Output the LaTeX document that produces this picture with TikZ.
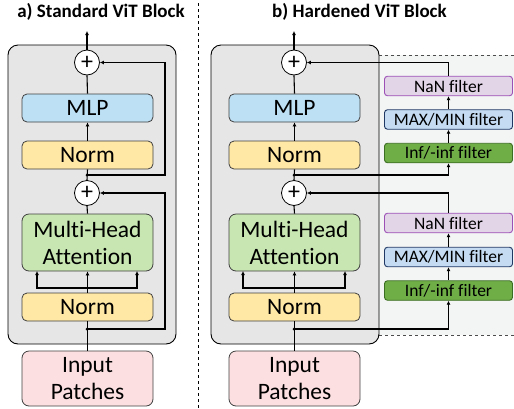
\documentclass[tikz,border=0pt]{standalone}
\usepackage{fontspec}
\setmainfont{Carlito}[Ligatures={NoCommon}]
\usetikzlibrary{arrows.meta}
\definecolor{mlpc}{HTML}{BDE0F4}
\definecolor{normc}{HTML}{FFE8A5}
\definecolor{mhac}{HTML}{C7E6B1}
\definecolor{inpc}{HTML}{FCDFE0}
\definecolor{nanf}{HTML}{E3D5E8}
\definecolor{nand}{HTML}{9C4FB5}
\definecolor{maxf}{HTML}{C4DBF1}
\definecolor{maxd}{HTML}{1F3864}
\definecolor{inff}{HTML}{6FAD47}
\definecolor{infd}{HTML}{3B6E22}
\definecolor{grayc}{HTML}{E6E6E6}
\definecolor{lightc}{HTML}{F3F4F4}
\tikzset{
  blk/.style={draw=black!75, line width=0.8pt, rounded corners=5pt, minimum width=131pt, inner sep=0pt, align=center, font=\fontsize{23.5}{27}\selectfont},
  filt/.style={line width=0.9pt, rounded corners=3pt, minimum width=128pt, minimum height=19.5pt, inner sep=0pt, font=\fontsize{17.5}{19}\selectfont},
  addc/.style={circle, draw=black, fill=white, line width=0.8pt, minimum size=25pt, inner sep=0pt, font=\fontsize{24}{24}\selectfont},
  conn/.style={line width=1.1pt, draw=black},
  arr/.style={conn, -{Latex[length=4pt,width=4pt]}},
  jdot/.style={circle, fill=black, inner sep=0pt, minimum size=3pt},
  ttl/.style={font=\fontsize{19}{19}\selectfont\bfseries}
}
\begin{document}
\begin{tikzpicture}[x=1pt,y=-1pt]
\useasboundingbox (0,0) rectangle (514,408);
% titles and separator
\node[ttl] (ta) at (101,12) {a) Standard ViT Block};
\node[ttl] (tb) at (359.5,12) {b) Hardened ViT Block};
\draw[dashed, line width=0.7pt] (198,3) -- (198,408);
% backgrounds
\fill[lightc] (379,55) rectangle (514,335);
\draw[dashed, line width=0.7pt, black!70] (379,55) -- (514,55);
\draw[dashed, line width=0.7pt, black!70] (379,335) -- (514,335);
\draw[fill=grayc, line width=0.9pt, rounded corners=10pt] (8,45) rectangle (176,344);
\draw[fill=grayc, line width=0.9pt, rounded corners=10pt] (211,45) rectangle (379,344);

% ---------- left panel ----------
\node[addc] (ac1) at (87,62.5) {+};
\node[blk, fill=mlpc, minimum height=28pt] (amlp) at (87.5,108) {MLP};
\node[blk, fill=normc, minimum height=28pt] (anorm1) at (87.5,155) {Norm};
\node[jdot] (aj1) at (87,175) {};
\node[addc] (ac2) at (87,193) {+};
\node[blk, fill=mhac, minimum height=57pt, rounded corners=7pt] (amha) at (87.5,242.5) {Multi-Head\\Attention};
\node[blk, fill=normc, minimum height=28pt] (anorm2) at (87.5,307) {Norm};
\node[jdot] (aj2) at (87,329) {};
\node[blk, fill=inpc, minimum height=55pt, rounded corners=7pt] (ainp) at (87.5,378.5) {Input\\Patches};
\coordinate (atop) at (87,31);
\coordinate (asplit) at (87,288);

\draw[arr] (ac1.north) -- (atop);
\draw[conn] (amlp.north) -- (ac1.south);
\draw[arr] (anorm1.north) -- (amlp.south);
\draw[conn] (ac2.north) -- (anorm1.south);
\draw[arr] (aj1.center) -- (165,175) -- (165,62.5) -- (ac1.east);
\draw[conn] (amha.north) -- (ac2.south);
\draw[arr] (anorm2.north) -- (amha.south);
\draw[arr] (asplit) -- (37,288) -- (37,271);
\draw[arr] (asplit) -- (137,288) -- (137,271);
\draw[conn] (ainp.north) -- (anorm2.south);
\draw[arr] (aj2.center) -- (165,329) -- (165,193) -- (ac2.east);

% ---------- right panel ----------
\node[addc] (bc1) at (294,62.5) {+};
\node[blk, fill=mlpc, minimum height=28pt] (bmlp) at (294.5,108) {MLP};
\node[blk, fill=normc, minimum height=28pt] (bnorm1) at (294.5,155) {Norm};
\node[jdot] (bj1) at (294,175) {};
\node[addc] (bc2) at (294,193) {+};
\node[blk, fill=mhac, minimum height=57pt, rounded corners=7pt] (bmha) at (294.5,242.5) {Multi-Head\\Attention};
\node[blk, fill=normc, minimum height=28pt] (bnorm2) at (294.5,307) {Norm};
\node[jdot] (bj2) at (294,329) {};
\node[blk, fill=inpc, minimum height=55pt, rounded corners=7pt] (binp) at (294.5,378.5) {Input\\Patches};
\coordinate (btop) at (294,31);
\coordinate (bsplit) at (294,288);

\node[filt, draw=nand, fill=nanf] (nan1) at (448.5,86) {NaN filter};
\node[filt, draw=maxd, fill=maxf] (max1) at (448.5,119.5) {MAX/MIN filter};
\node[filt, draw=infd, fill=inff] (inf1) at (448.5,153) {Inf/-inf filter};
\node[filt, draw=nand, fill=nanf] (nan2) at (448.5,223) {NaN filter};
\node[filt, draw=maxd, fill=maxf] (max2) at (448.5,257) {MAX/MIN filter};
\node[filt, draw=infd, fill=inff] (inf2) at (448.5,290.5) {Inf/-inf filter};

\draw[arr] (bc1.north) -- (btop);
\draw[conn] (bmlp.north) -- (bc1.south);
\draw[arr] (bnorm1.north) -- (bmlp.south);
\draw[conn] (bc2.north) -- (bnorm1.south);
\draw[conn] (bmha.north) -- (bc2.south);
\draw[arr] (bnorm2.north) -- (bmha.south);
\draw[arr] (bsplit) -- (243,288) -- (243,271);
\draw[arr] (bsplit) -- (345,288) -- (345,271);
\draw[conn] (binp.north) -- (bnorm2.south);

\draw[arr] (bj1.center) -- (inf1.south |- bj1) -- (inf1.south);
\draw[arr] (inf1.north) -- (max1.south);
\draw[arr] (max1.north) -- (nan1.south);
\draw[arr] (nan1.north) -- (nan1.north |- bc1) -- (bc1.east);

\draw[arr] (bj2.center) -- (inf2.south |- bj2) -- (inf2.south);
\draw[arr] (inf2.north) -- (max2.south);
\draw[arr] (max2.north) -- (nan2.south);
\draw[arr] (nan2.north) -- (nan2.north |- bc2) -- (bc2.east);
\end{tikzpicture}
\end{document}
